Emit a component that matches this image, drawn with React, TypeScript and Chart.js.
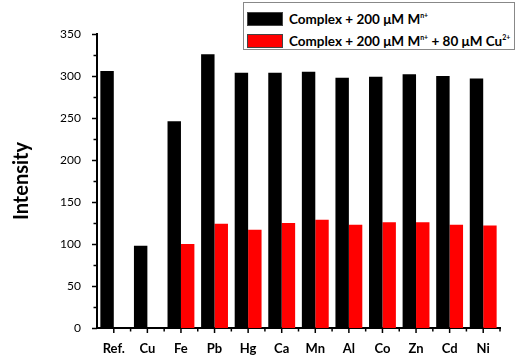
import React, { useEffect, useRef } from "react";
import { Chart, registerables } from "chart.js";

Chart.register(...registerables);

const categories = ["Ref.", "Cu", "Fe", "Pb", "Hg", "Ca", "Mn", "Al", "Co", "Zn", "Cd", "Ni"];
const seriesMetal = [306, 98, 246, 326, 304, 304, 305, 298, 299, 302, 300, 297];
const seriesMetalCu = [0, 0, 100, 124, 117, 125, 129, 123, 126, 126, 123, 122];
const yTicks = [0, 50, 100, 150, 200, 250, 300, 350];

const tickPlugin = {
  id: "customTicks",
  afterDraw(chart: any) {
    const ctx = chart.ctx;
    const y = chart.scales.y;
    const x = chart.scales.x;
    const area = chart.chartArea;
    ctx.save();
    ctx.strokeStyle = "#000";
    ctx.lineWidth = 1.5;
    for (let v = 0; v <= 350; v += 25) {
      const py = Math.round(y.getPixelForValue(v)) + 0.5;
      const len = v % 50 === 0 ? 5 : 3.5;
      ctx.beginPath();
      ctx.moveTo(area.left, py);
      ctx.lineTo(area.left - len, py);
      ctx.stroke();
    }
    const n = categories.length;
    const half = (x.getPixelForValue(1) - x.getPixelForValue(0)) / 2;
    for (let i = 0; i < n; i++) {
      const px = x.getPixelForValue(i);
      ctx.beginPath();
      ctx.moveTo(px, area.bottom);
      ctx.lineTo(px, area.bottom + 5);
      ctx.stroke();
      const bx = px + half;
      ctx.beginPath();
      ctx.moveTo(bx, area.bottom);
      ctx.lineTo(bx, area.bottom + 3.5);
      ctx.stroke();
    }
    ctx.restore();
  },
};

export default function App() {
  const ref = useRef<HTMLCanvasElement | null>(null);
  useEffect(() => {
    if (!ref.current) return;
    const chart = new Chart(ref.current, {
      type: "bar",
      data: {
        labels: categories,
        datasets: [
          {
            label: "Complex + 200 μM Mⁿ⁺",
            data: seriesMetal,
            backgroundColor: "#000000",
            borderWidth: 0,
            categoryPercentage: 0.8,
            barPercentage: 1.0,
          },
          {
            label: "Complex + 200 μM Mⁿ⁺ + 80 μM Cu²⁺",
            data: seriesMetalCu,
            backgroundColor: "#ff0000",
            borderWidth: 0,
            categoryPercentage: 0.8,
            barPercentage: 1.0,
          },
        ],
      },
      options: {
        responsive: false,
        animation: false,
        layout: { padding: { top: 34, right: 25, left: 0, bottom: 0 } },
        plugins: { legend: { display: false }, tooltip: { enabled: false } },
        scales: {
          x: {
            grid: { display: false },
            border: { display: true, color: "#000", width: 2 },
            ticks: {
              color: "#000",
              padding: 5,
              font: { family: "Lato", size: 13, weight: "bold" },
              maxRotation: 0,
              autoSkip: false,
            },
            afterFit: (s: any) => {
              s.height = 30;
            },
          },
          y: {
            min: 0,
            max: 350,
            afterBuildTicks: (s: any) => {
              s.ticks = yTicks.map((v) => ({ value: v }));
            },
            grid: { display: false },
            border: { display: true, color: "#000", width: 2 },
            ticks: {
              color: "#000",
              padding: 8,
              font: { family: "Lato", size: 12 },
            },
            title: {
              display: true,
              text: "Intensity",
              color: "#000",
              font: { family: "Lato", size: 20, weight: "bold" },
              padding: { top: 10, bottom: 10 },
            },
            afterFit: (s: any) => {
              s.width = 97;
            },
          },
        },
      },
      plugins: [tickPlugin],
    });
    return () => chart.destroy();
  }, []);

  const item = (color: string, content: React.ReactNode) => (
    <div style={{ display: "flex", alignItems: "center", height: 22 }}>
      <div style={{ width: 34, height: 12, background: color, border: "1px solid #444", marginRight: 6 }} />
      <span>{content}</span>
    </div>
  );

  return (
    <div style={{ position: "fixed", left: 0, top: 0, width: 525, height: 358, background: "#fff" }}>
      <canvas ref={ref} width={525} height={358} style={{ width: 525, height: 358, display: "block" }} />
      <div
        style={{
          position: "absolute",
          left: 243,
          top: 2,
          width: 272,
          height: 48,
          border: "1px solid #888",
          background: "#fff",
          fontFamily: "Lato",
          fontWeight: "bold",
          fontSize: 13.5,
          color: "#000",
          padding: "5px 0 0 3px",
          boxSizing: "border-box",
          lineHeight: 1,
        }}
      >
        {item("#000000", <>Complex + 200 μM M<sup style={{ fontSize: 7 }}>n+</sup></>)}
        {item("#ff0000", <>Complex + 200 μM M<sup style={{ fontSize: 7 }}>n+</sup> + 80 μM Cu<sup style={{ fontSize: 7 }}>2+</sup></>)}
      </div>
    </div>
  );
}
